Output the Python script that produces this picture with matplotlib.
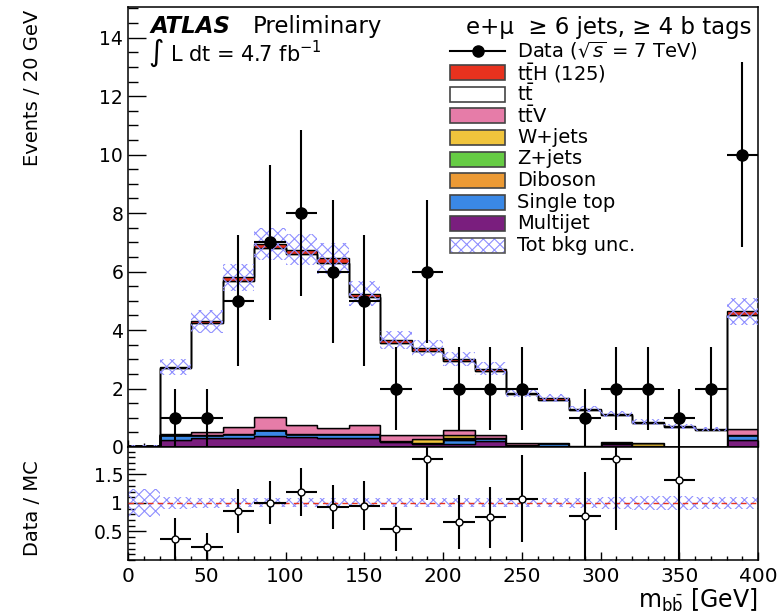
import numpy as np
import matplotlib.pyplot as plt
from matplotlib.patches import Rectangle
from matplotlib.ticker import MultipleLocator

plt.rcParams['font.family'] = ['DejaVu Sans']
plt.rcParams['mathtext.fontset'] = 'dejavusans'
plt.rcParams['hatch.linewidth'] = 0.8

# m_bb bins, 20 GeV wide
edges = np.arange(0, 420, 20)

# stack components (events / bin), bottom to top
multijet = [0.02, 0.24, 0.30, 0.32, 0.38, 0.34, 0.30, 0.32, 0.18, 0.10,
            0.10, 0.20, 0.06, 0.04, 0.02, 0.10, 0.02, 0.01, 0.01, 0.25]
single_top = [0.0, 0.17, 0.10, 0.12, 0.20, 0.12, 0.14, 0.14, 0.04, 0.03,
              0.14, 0.10, 0.02, 0.08, 0.02, 0.04, 0.0, 0.0, 0.0, 0.15]
diboson = [0, 0, 0, 0, 0, 0, 0, 0, 0, 0.02,
           0.05, 0, 0, 0, 0, 0, 0, 0, 0, 0]
zjets = [0, 0, 0, 0, 0, 0, 0, 0, 0, 0,
         0.03, 0, 0, 0, 0, 0, 0, 0, 0, 0]
wjets = [0, 0, 0, 0, 0, 0, 0, 0, 0, 0.12,
         0.08, 0, 0, 0, 0, 0, 0.12, 0, 0, 0]
ttv = [0, 0.02, 0.10, 0.25, 0.45, 0.28, 0.22, 0.30, 0.18, 0.15,
       0.18, 0.10, 0.04, 0.02, 0.01, 0.02, 0.0, 0.0, 0.0, 0.22]
ttbar = [0.03, 2.27, 3.73, 5.00, 5.77, 5.86, 5.64, 4.37, 3.16, 2.86,
         2.35, 2.20, 1.68, 1.48, 1.20, 0.92, 0.68, 0.66, 0.56, 3.88]
tth = [0.0, 0.05, 0.07, 0.11, 0.15, 0.15, 0.15, 0.12, 0.10, 0.10,
       0.09, 0.08, 0.06, 0.06, 0.05, 0.05, 0.04, 0.04, 0.04, 0.14]
# relative total background uncertainty
unc_rel = [0.25, 0.10, 0.09, 0.08, 0.08, 0.08, 0.08, 0.08, 0.08, 0.08,
           0.08, 0.08, 0.08, 0.08, 0.09, 0.10, 0.12, 0.12, 0.10, 0.10]

data = [0, 1, 1, 5, 7, 8, 6, 5, 2, 6, 2, 2, 2, 0, 1, 2, 2, 1, 2, 10]

components = [
    ("Multijet", multijet, "#7a1e7e"),
    ("Single top", single_top, "#3a88e6"),
    ("Diboson", diboson, "#ec9a34"),
    ("Z+jets", zjets, "#66cc44"),
    ("W+jets", wjets, "#f0c43c"),
    (r"$\mathrm{t\bar{t}V}$", ttv, "#e67ca8"),
    (r"$\mathrm{t\bar{t}}$", ttbar, "white"),
    (r"$\mathrm{t\bar{t}H}$ (125)", tth, "#e8321e"),
]

W, H = 781, 616
fig = plt.figure(figsize=(7.81, 6.16), dpi=100)
ax = fig.add_axes([128 / W, 1 - 447 / H, 630 / W, 440 / H])
rax = fig.add_axes([128 / W, 1 - 560 / H, 630 / W, 113 / H], sharex=ax)

# stacked histograms
bottom = np.zeros(len(data))
for name, vals, col in components:
    vals = np.array(vals, dtype=float)
    ax.stairs(bottom + vals, edges, baseline=bottom.copy(), fill=True,
              facecolor=col, edgecolor="black", linewidth=1.0, zorder=2)
    bottom = bottom + vals
total = bottom
unc = np.array(unc_rel)

hatch_col = "#8f8fff"
ax.stairs(total * (1 + unc), edges, baseline=total * (1 - unc), fill=True,
          facecolor="none", edgecolor=hatch_col, hatch="xxx", linewidth=0, zorder=3)

# data points
d = np.array(data, dtype=float)
centers = 0.5 * (edges[:-1] + edges[1:])
m = d > 0
ax.errorbar(centers[m], d[m], yerr=np.sqrt(d[m]), xerr=10, fmt="o", color="black",
            markersize=8, elinewidth=1.5, capsize=0, zorder=5)

ax.set_xlim(0, 400)
ax.set_ylim(0, 15.05)
ax.yaxis.set_major_locator(MultipleLocator(2))
ax.yaxis.set_minor_locator(MultipleLocator(0.5))
ax.xaxis.set_major_locator(MultipleLocator(50))
ax.xaxis.set_minor_locator(MultipleLocator(10))
ax.tick_params(axis="y", which="major", direction="in", length=13, width=1, labelsize=13.5, pad=3.5)
ax.tick_params(axis="y", which="minor", direction="in", length=7, width=1)
ax.tick_params(axis="x", which="major", direction="in", length=5, width=1, labelbottom=False)
ax.tick_params(axis="x", which="minor", direction="in", length=3, width=1)

# ratio panel
ratio = d / total
rerr = np.sqrt(d) / total
rmask = (d > 0) & (ratio < 1.95)
rax.stairs(1 + unc, edges, baseline=1 - unc, fill=True, facecolor="none",
           edgecolor=hatch_col, hatch="xxx", linewidth=0, zorder=2)
rax.hlines(1, 0, 400, colors="#e8321e", linestyles=(0, (4, 3)), linewidth=1, zorder=3)
rax.errorbar(centers[rmask], ratio[rmask], yerr=rerr[rmask], xerr=10, fmt="o",
             color="black", mfc="white", mec="black", markersize=5,
             elinewidth=1.5, capsize=0, zorder=5)
rax.set_ylim(0.0, 1.98)
rax.yaxis.set_minor_locator(MultipleLocator(0.1))
rax.set_yticks([0.5, 1.0, 1.5])
rax.set_yticklabels(["0.5", "1", "1.5"])
rax.tick_params(axis="y", which="major", direction="in", length=13, width=1, labelsize=13.5, pad=3.5)
rax.tick_params(axis="y", which="minor", direction="in", length=5, width=1)
rax.tick_params(axis="x", which="major", direction="in", length=6, width=1, labelsize=14.5, pad=5)
rax.tick_params(axis="x", which="minor", direction="in", length=3, width=1)

for a in (ax, rax):
    for s in a.spines.values():
        s.set_linewidth(1.1)

# axis titles
fig.text(33 / W, 1 - 10 / H, "Events / 20 GeV", rotation=90, ha="center", va="top", fontsize=14)
fig.text(32 / W, 1 - 460 / H, "Data / MC", rotation=90, ha="center", va="top", fontsize=14)
fig.text(758 / W, 1 - 608 / H, r"$\mathrm{m_{b\bar{b}}}$ [GeV]", ha="right", va="baseline", fontsize=17)

# ATLAS label
def axpt(px, py):
    return (px - 128) / 630, (447 - py) / 440

x0, y0 = axpt(150, 33)
ax.text(x0, y0, "ATLAS", fontsize=16.5, fontweight="bold", style="italic", transform=ax.transAxes)
x1, _ = axpt(253, 33)
ax.text(x1, y0, "Preliminary", fontsize=16.5, transform=ax.transAxes)
x0, y0 = axpt(148, 61)
ax.text(x0, y0, r"$\int$ L dt = 4.7 fb$^{-1}$", fontsize=15, transform=ax.transAxes)
x0, y0 = axpt(752, 34)
ax.text(x0, y0, "e+\u03bc  \u2265 6 jets, \u2265 4 b tags", fontsize=16.5, ha="right", transform=ax.transAxes)

# legend
legend_rows = [("Data ($\\sqrt{s}$ = 7 TeV)", None)]
for name, vals, col in components[::-1]:
    legend_rows.append((name, col))
legend_rows.append(("Tot bkg unc.", "unc"))

bx0, _ = axpt(450, 0)
bx1, _ = axpt(505, 0)
tx, _ = axpt(517, 0)
bh = 15 / 440
for i, (label, col) in enumerate(legend_rows):
    _, yc = axpt(0, 51 + 21.6 * i)
    if col is None:
        ax.plot([bx0, bx1], [yc, yc], color="black", lw=1.5, transform=ax.transAxes, clip_on=False)
        ax.plot([(bx0 + bx1) / 2], [yc], "o", color="black", markersize=8, transform=ax.transAxes)
    elif col == "unc":
        ax.add_patch(Rectangle((bx0, yc - bh / 2), bx1 - bx0, bh, transform=ax.transAxes,
                               facecolor="white", edgecolor=hatch_col, hatch="xxx", lw=0))
        ax.add_patch(Rectangle((bx0, yc - bh / 2), bx1 - bx0, bh, transform=ax.transAxes,
                               facecolor="none", edgecolor="#555555", lw=1.2))
    else:
        ax.add_patch(Rectangle((bx0, yc - bh / 2), bx1 - bx0, bh, transform=ax.transAxes,
                               facecolor=col, edgecolor="#444444", lw=1.2))
    ax.text(tx, yc, label, fontsize=14, va="center", transform=ax.transAxes)

fig.savefig("out.png", dpi=100)
